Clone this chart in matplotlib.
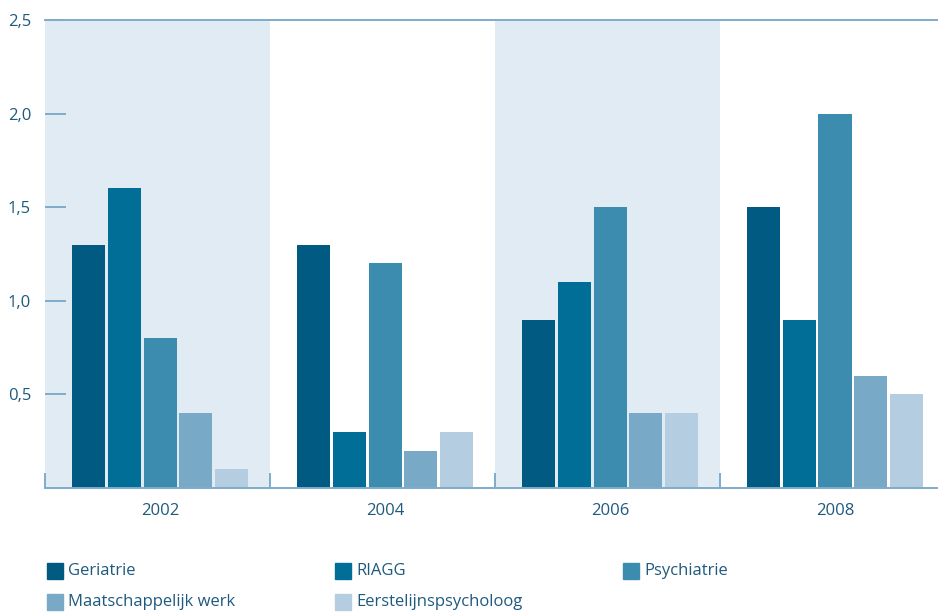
import numpy as np
import matplotlib.pyplot as plt
from matplotlib.patches import Rectangle
from matplotlib.ticker import FixedLocator

# data
years = ["2002", "2004", "2006", "2008"]
series = ["Geriatrie", "RIAGG", "Psychiatrie", "Maatschappelijk werk", "Eerstelijnspsycholoog"]
geriatrie = [1.3, 1.3, 0.9, 1.5]
riagg = [1.6, 0.3, 1.1, 0.9]
psychiatrie = [0.8, 1.2, 1.5, 2.0]
maatschappelijk = [0.4, 0.2, 0.4, 0.6]
eerstelijns = [0.1, 0.3, 0.4, 0.5]
yticks = [0.5, 1.0, 1.5, 2.0, 2.5]

values = [geriatrie, riagg, psychiatrie, maatschappelijk, eerstelijns]
colors = ["#005a82", "#006e96", "#3c8cb0", "#78aac8", "#b4cde0"]
txt = "#1e5a7d"
line = "#7eaccb"
font = "Open Sans"

fig = plt.figure(figsize=(9.38, 6.12), dpi=100)
ax = fig.add_axes([45 / 938, 1 - 488 / 612, 1 - 45 / 938, (488 - 20) / 612])

x = np.arange(len(years))
off = 0.012  # bars sit a hair right of the band centre
step = 0.159
width = 0.147

# shaded bands behind every other year
for i in range(0, len(years), 2):
    ax.axvspan(i - 0.5, i + 0.5, color="#e1ebf3", lw=0, zorder=0)

for k, (vals, c) in enumerate(zip(values, colors)):
    ax.bar(x + off + (k - 2) * step, vals, width, color=c, zorder=2)

ax.set_xlim(-0.5, 3.47)
ax.set_ylim(0, 2.5)

for s in ["left", "right"]:
    ax.spines[s].set_visible(False)
for s in ["top", "bottom"]:
    ax.spines[s].set_color(line)
    ax.spines[s].set_linewidth(1.4)

ax.set_yticks(yticks)
ax.set_yticklabels([f"{v:.1f}".replace(".", ",") for v in yticks],
                   fontsize=12, color=txt, family=font)
ax.tick_params(axis="y", direction="in", length=15, width=1.4, color=line, pad=10)

ax.set_xticks(x + off)
ax.set_xticklabels(years, fontsize=12, color=txt, family=font)
ax.tick_params(axis="x", which="major", length=0, pad=11)
ax.xaxis.set_minor_locator(FixedLocator(np.arange(-0.5, 3.5, 1.0)))
ax.tick_params(axis="x", which="minor", direction="in", length=11, width=1.4, color=line)

# legend, 3 columns, row-major
for k, (name, c) in enumerate(zip(series, colors)):
    col, row = k % 3, k // 3
    px = 47 + col * 288
    py = 571 + row * 31
    fig.patches.append(Rectangle((px / 938, 1 - (py + 8) / 612), 16 / 938, 16 / 612,
                                 transform=fig.transFigure, color=c, figure=fig))
    fig.text((px + 21) / 938, 1 - py / 612, name, fontsize=12, color=txt,
             family=font, va="center", ha="left")

fig.savefig("out.png", dpi=100)
